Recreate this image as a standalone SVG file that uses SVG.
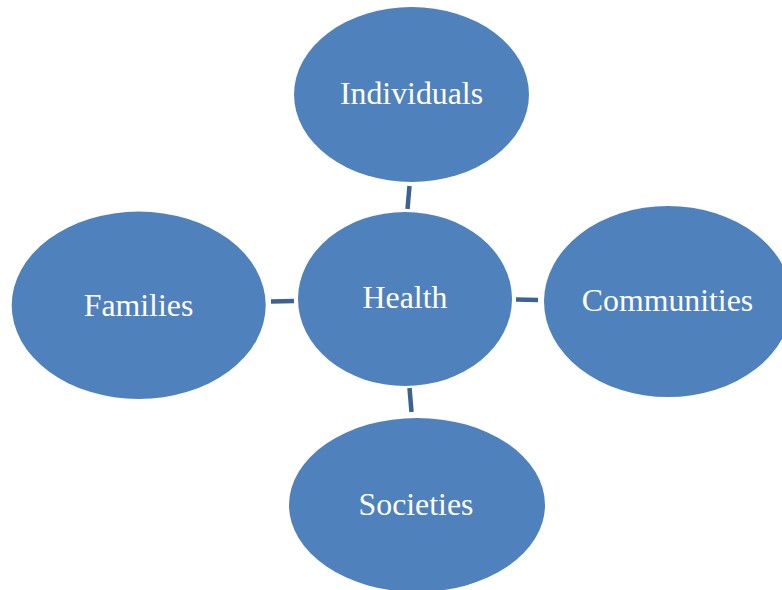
<svg xmlns="http://www.w3.org/2000/svg" width="782" height="590" viewBox="0 0 782 590">
  <style>
    .node ellipse { fill: #4f81bd; }
    .node text { fill: #ffffff; font-family: "Liberation Serif", "Times New Roman", serif; font-size: 31.8px; text-anchor: middle; }
    .link { stroke: #3b6293; stroke-width: 4.5; fill: none; }
  </style>
  <rect width="782" height="590" fill="#ffffff"/>

  <!-- short connector bars between the hub and each outer node -->
  <g id="connectors">
    <line class="link" x1="409.5" y1="186" x2="407.5" y2="209"/>
    <line class="link" x1="271" y1="301.5" x2="294" y2="301"/>
    <line class="link" x1="516" y1="299.5" x2="538" y2="300"/>
    <line class="link" x1="409.5" y1="388" x2="411.5" y2="412"/>
  </g>

  <g id="individuals" class="node">
    <ellipse cx="411.5" cy="94.5" rx="117.5" ry="87.5"/>
    <text x="411.5" y="104">Individuals</text>
  </g>

  <g id="health" class="node">
    <ellipse cx="405" cy="299" rx="107" ry="87"/>
    <text x="405" y="308">Health</text>
  </g>

  <g id="families" class="node">
    <ellipse cx="138.7" cy="305.3" rx="127" ry="93.7"/>
    <text x="138.5" y="316">Families</text>
  </g>

  <g id="communities" class="node">
    <ellipse cx="668" cy="301.5" rx="124" ry="95.5"/>
    <text x="667.5" y="311">Communities</text>
  </g>

  <g id="societies" class="node">
    <ellipse cx="417" cy="505" rx="128" ry="87"/>
    <text x="416" y="515">Societies</text>
  </g>
</svg>
